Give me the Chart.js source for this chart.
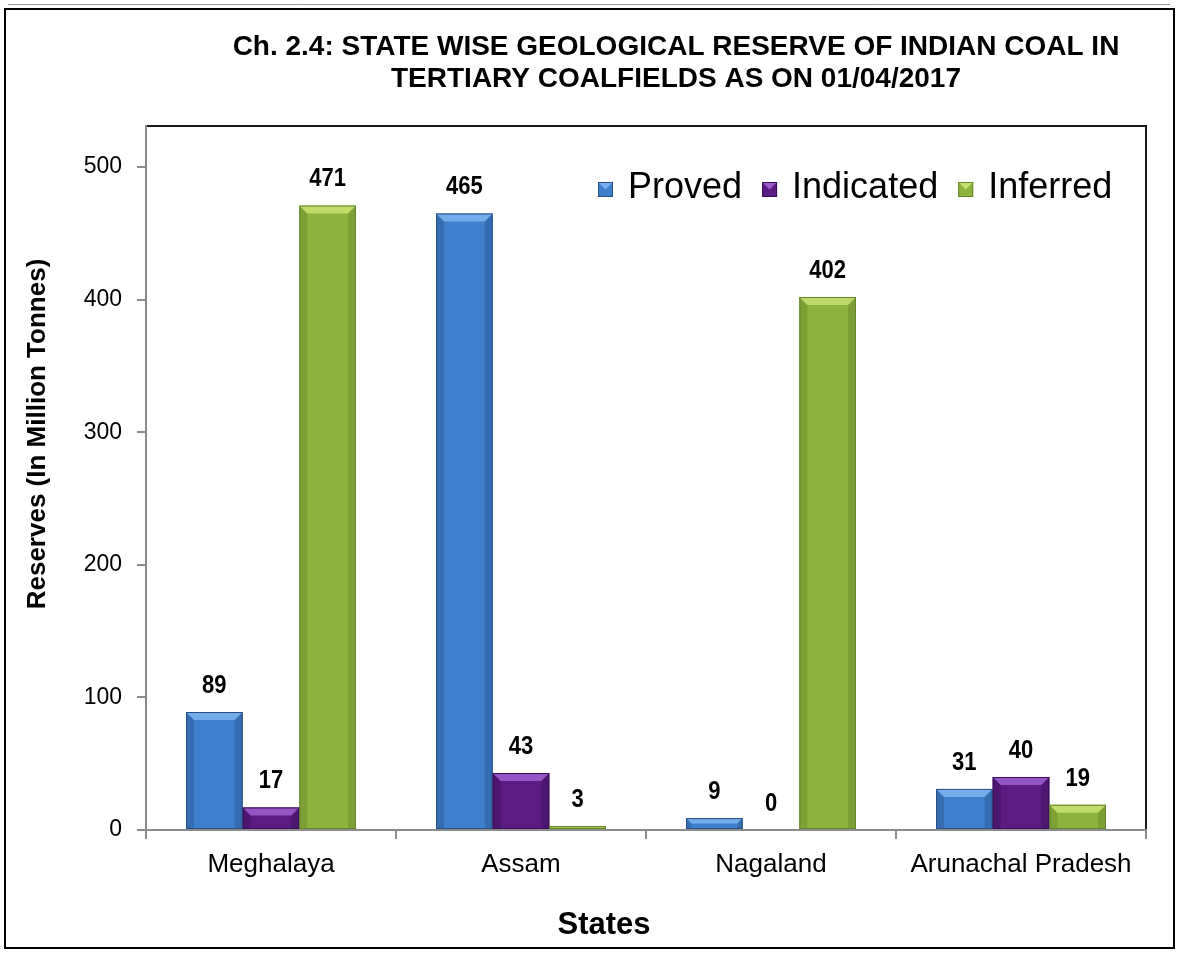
<!DOCTYPE html>
<html>
<head>
<meta charset="utf-8">
<script src="https://cdn.jsdelivr.net/npm/chart.js@4.4.1/dist/chart.umd.min.js"></script>
<style>
  html, body { margin: 0; padding: 0; background: #fff; }
  #chart { display: block; }
</style>
</head>
<body>
<canvas id="chart" width="1177" height="955"></canvas>
<script>
// data
const states = ['Meghalaya', 'Assam', 'Nagaland', 'Arunachal Pradesh']
const proved = [89, 465, 9, 31]
const indicated = [17, 43, 0, 40]
const inferred = [471, 3, 402, 19]
const seriesNames = ['Proved', 'Indicated', 'Inferred']
const yTicks = [0, 100, 200, 300, 400, 500]
const titleLines = ['Ch. 2.4: STATE WISE GEOLOGICAL RESERVE OF INDIAN COAL IN', 'TERTIARY COALFIELDS AS ON 01/04/2017']
const yTitle = 'Reserves (In Million Tonnes)'
const xTitle = 'States'

// base / light / dark shade per series
const shades = [
  { base: '#3f80cc', light: '#78b0ee', dark: '#274f86' },
  { base: '#5b1b83', light: '#9a5ccc', dark: '#3a0e56' },
  { base: '#8cb33e', light: '#c4e06e', dark: '#65852a' }
]

const FONT = "'Liberation Sans', Arial, sans-serif"

const decor = {
  id: 'decor',
  beforeDraw(chart) {
    const c = chart.ctx
    c.save()
    c.fillStyle = '#fff'
    c.fillRect(0, 0, chart.width, chart.height)
    // faint line above the frame
    c.strokeStyle = '#9a9a9a'
    c.lineWidth = 1
    c.beginPath(); c.moveTo(8, 4.5); c.lineTo(1170, 4.5); c.stroke()
    // outer frame
    c.strokeStyle = '#000'
    c.lineWidth = 2
    c.strokeRect(5, 9, 1169, 939)
    // plot area box (top + right)
    const a = chart.chartArea
    c.strokeStyle = '#1a1a1a'
    c.lineWidth = 2
    c.beginPath()
    c.moveTo(a.left, a.top); c.lineTo(a.right, a.top); c.lineTo(a.right, a.bottom)
    c.stroke()
    c.restore()
  },
  afterDatasetsDraw(chart) {
    const c = chart.ctx
    c.save()
    // bevel on every bar
    chart.data.datasets.forEach((ds, i) => {
      const sh = shades[i]
      chart.getDatasetMeta(i).data.forEach(bar => {
        const l = bar.x - bar.width / 2, r = bar.x + bar.width / 2
        const t = bar.y, b = bar.base
        const h = b - t
        if (h < 1) return
        const bv = Math.min(8, h / 2)
        // sides
        c.fillStyle = sh.dark
        c.globalAlpha = 0.4
        c.beginPath(); c.moveTo(l, t); c.lineTo(l + bv, t + bv); c.lineTo(l + bv, b); c.lineTo(l, b); c.fill()
        c.beginPath(); c.moveTo(r, t); c.lineTo(r - bv, t + bv); c.lineTo(r - bv, b); c.lineTo(r, b); c.fill()
        // top
        c.globalAlpha = 0.9
        c.fillStyle = sh.light
        c.beginPath(); c.moveTo(l, t); c.lineTo(r, t); c.lineTo(r - bv, t + bv); c.lineTo(l + bv, t + bv); c.fill()
        c.globalAlpha = 1
        c.strokeStyle = sh.dark
        c.lineWidth = 1
        c.strokeRect(l + 0.5, t + 0.5, bar.width - 1, h - 1)
      })
    })
    // value labels
    c.fillStyle = '#000'
    c.font = 'bold 25px ' + FONT
    c.textAlign = 'center'
    c.textBaseline = 'middle'
    chart.data.datasets.forEach((ds, i) => {
      chart.getDatasetMeta(i).data.forEach((bar, j) => {
        c.save()
        c.translate(bar.x, bar.y - 26)
        c.scale(0.88, 1)
        c.fillText(String(ds.data[j]), 0, 0)
        c.restore()
      })
    })
    c.restore()
  },
  afterDraw(chart) {
    const c = chart.ctx
    c.save()
    c.fillStyle = '#000'
    c.textBaseline = 'middle'
    c.textAlign = 'center'
    // title
    c.font = 'bold 28px ' + FONT
    c.fillText(titleLines[0], 676, 47)
    c.fillText(titleLines[1], 676, 79)
    // axis titles
    c.font = 'bold 31px ' + FONT
    c.fillText(xTitle, 604, 925)
    c.save()
    c.translate(38, 434)
    c.rotate(-Math.PI / 2)
    c.font = 'bold 26px ' + FONT
    c.fillText(yTitle, 0, 0)
    c.restore()
    // legend inside the plot
    c.font = '36px ' + FONT
    c.textAlign = 'left'
    let x = 598
    const y = 188
    seriesNames.forEach((name, i) => {
      const sh = shades[i]
      c.fillStyle = sh.base
      c.fillRect(x, y - 6, 15, 15)
      c.fillStyle = sh.light
      c.beginPath(); c.moveTo(x, y - 6); c.lineTo(x + 15, y - 6); c.lineTo(x + 7.5, y + 1.5); c.fill()
      c.strokeStyle = sh.dark
      c.lineWidth = 1
      c.strokeRect(x + 0.5, y - 5.5, 14, 14)
      c.fillStyle = '#000'
      c.fillText(name, x + 30, y)
      x += 30 + c.measureText(name).width + 20
    })
    c.restore()
  }
}

new Chart(document.getElementById('chart'), {
  type: 'bar',
  data: {
    labels: states,
    datasets: [
      { label: seriesNames[0], data: proved, backgroundColor: shades[0].base },
      { label: seriesNames[1], data: indicated, backgroundColor: shades[1].base },
      { label: seriesNames[2], data: inferred, backgroundColor: shades[2].base }
    ]
  },
  options: {
    responsive: false,
    animation: false,
    devicePixelRatio: 1,
    layout: { padding: { top: 126, right: 31, bottom: 0, left: 0 } },
    datasets: { bar: { categoryPercentage: 0.68, barPercentage: 1 } },
    plugins: { legend: { display: false }, title: { display: false }, tooltip: { enabled: false } },
    scales: {
      x: {
        grid: { display: true, drawOnChartArea: false, offset: true, tickLength: 9, color: '#8c8c8c', lineWidth: 2 },
        border: { color: '#8c8c8c', width: 2 },
        ticks: { color: '#000', font: { family: FONT, size: 26 }, padding: 10, maxRotation: 0 },
        afterFit(s) { s.height = 125 }
      },
      y: {
        min: 0,
        max: 531,
        afterBuildTicks(s) { s.ticks = yTicks.map(v => ({ value: v })) },
        grid: { display: true, drawOnChartArea: false, tickLength: 9, color: '#8c8c8c', lineWidth: 2 },
        border: { color: '#8c8c8c', width: 2 },
        ticks: { color: '#000', font: { family: FONT, size: 23 }, padding: 15 },
        afterFit(s) { s.width = 146 }
      }
    }
  },
  plugins: [decor]
})
</script>
</body>
</html>
